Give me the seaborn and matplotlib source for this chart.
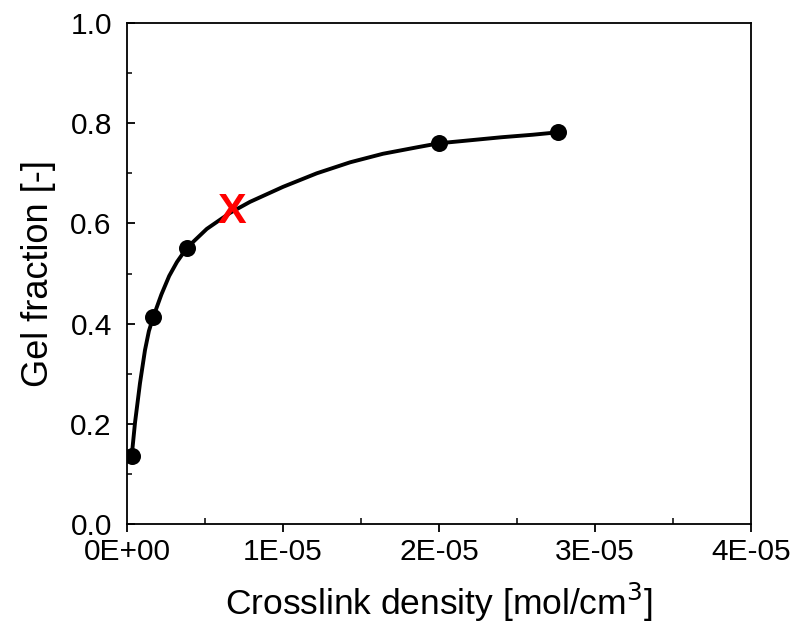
import numpy as np
import pandas as pd
import matplotlib
matplotlib.use("Agg")
import matplotlib.pyplot as plt
from matplotlib.ticker import MultipleLocator, FuncFormatter
import seaborn as sns

# measured points
density = [0.30e-6, 1.69e-6, 3.83e-6, 20.0e-6, 27.65e-6]
gel = [0.136, 0.414, 0.551, 0.760, 0.782]

# fitted curve
curve_x = [0.30e-6, 0.51e-6, 0.83e-6, 1.15e-6, 1.40e-6, 1.69e-6, 2.20e-6, 2.70e-6,
           3.20e-6, 3.83e-6, 5.11e-6, 6.60e-6, 7.88e-6, 10.0e-6, 12.16e-6, 14.3e-6,
           16.4e-6, 18.6e-6, 20.0e-6, 22.0e-6, 24.0e-6, 26.0e-6, 27.65e-6]
curve_y = [0.136, 0.202, 0.281, 0.347, 0.385, 0.414, 0.458, 0.495,
           0.523, 0.551, 0.589, 0.621, 0.643, 0.673, 0.700, 0.722,
           0.739, 0.752, 0.760, 0.766, 0.772, 0.777, 0.782]

# red X annotation
mark_x = [6.71e-6]
mark_y = [0.623]

x_ticks = [0, 1e-5, 2e-5, 3e-5, 4e-5]
x_tick_labels = ["0E+00", "1E-05", "2E-05", "3E-05", "4E-05"]
y_ticks = [0.0, 0.2, 0.4, 0.6, 0.8, 1.0]

sns.set_theme(style="ticks")
plt.rcParams["font.family"] = ["Liberation Sans", "DejaVu Sans"]

fig = plt.figure(figsize=(7.94, 6.31), dpi=100)
ax = fig.add_axes([0.16, 0.1696, 0.786, 0.7939])

df_curve = pd.DataFrame({"x": curve_x, "y": curve_y})
df_pts = pd.DataFrame({"x": density, "y": gel})

sns.lineplot(data=df_curve, x="x", y="y", sort=False, color="black", lw=2.8, ax=ax)
sns.scatterplot(data=df_pts, x="x", y="y", color="black", s=150, edgecolor="black",
                linewidth=0, ax=ax, zorder=3)

for mx, my in zip(mark_x, mark_y):
    ax.text(mx, my, "X", color="#ff0000", fontsize=31, fontweight="bold",
            ha="center", va="center", zorder=4)

ax.set_xlim(0, 4e-5)
ax.set_ylim(0, 1.0)
ax.set_xticks(x_ticks)
ax.set_xticklabels(x_tick_labels)
ax.set_yticks(y_ticks)
ax.yaxis.set_major_formatter(FuncFormatter(lambda v, p: f"{v:.1f}"))
ax.xaxis.set_minor_locator(MultipleLocator(0.5e-5))
ax.yaxis.set_minor_locator(MultipleLocator(0.1))

for s in ax.spines.values():
    s.set_visible(True)
    s.set_linewidth(1.3)
    s.set_color("black")

ax.tick_params(axis="x", which="major", direction="out", length=6, width=1.3,
               labelsize=21.5, pad=4, colors="black")
ax.tick_params(axis="x", which="minor", direction="in", length=4, width=1.3)
ax.tick_params(axis="y", which="major", direction="in", length=6, width=1.3,
               labelsize=21.5, pad=11, colors="black")
ax.tick_params(axis="y", which="minor", direction="in", length=3.5, width=1.3)
ax.tick_params(top=False, right=False, which="both")

ax.set_xlabel("Crosslink density [mol/cm$^3$]", fontsize=25.5, labelpad=11, color="black")
ax.set_ylabel("Gel fraction [-]", fontsize=26, labelpad=10, color="black")
ax.grid(False)

fig.savefig("out.png", dpi=100)
